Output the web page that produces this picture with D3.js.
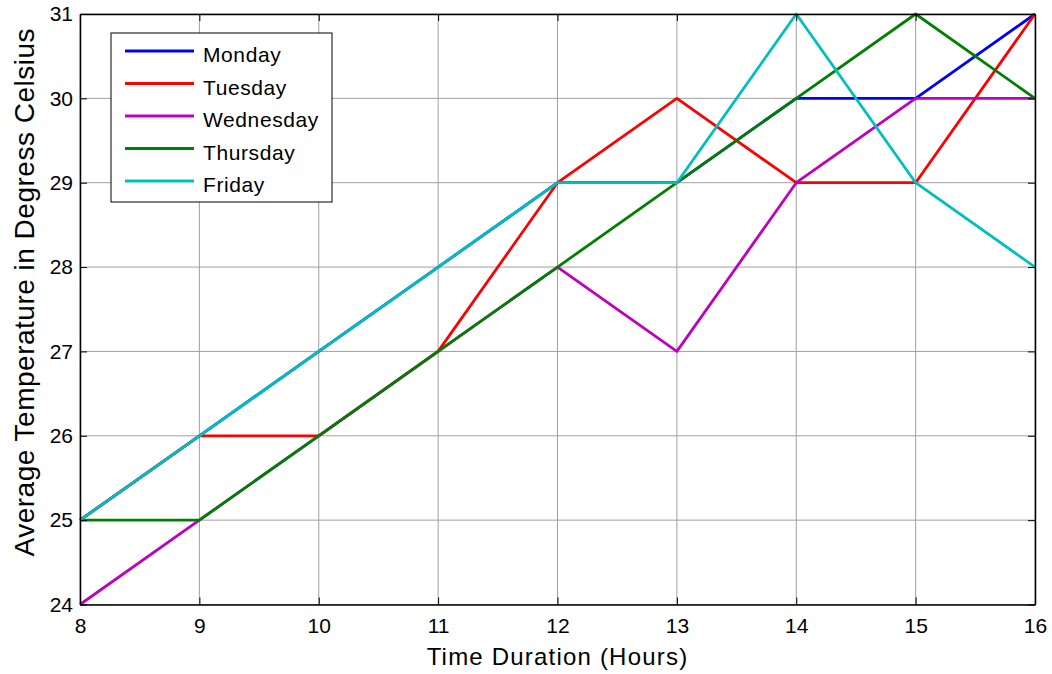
<!DOCTYPE html>
<html>
<head>
<meta charset="utf-8">
<script src="https://cdn.jsdelivr.net/npm/d3@7"></script>
<style>
  body { margin: 0; background: #fff; }
  svg text { font-family: "Liberation Sans", Arial, sans-serif; fill: #000; }
</style>
</head>
<body>
<div id="figure_area"></div>
<script>
// ----- DATA
var hours = [8, 9, 10, 11, 12, 13, 14, 15, 16];
var monday    = [25, 26, 27, 28, 29, 29, 30, 30, 31];
var tuesday   = [25, 26, 26, 27, 29, 30, 29, 29, 31];
var wednesday = [24, 25, 26, 27, 28, 27, 29, 30, 30];
var thursday  = [25, 25, 26, 27, 28, 29, 30, 31, 30];
var friday    = [25, 26, 27, 28, 29, 29, 31, 29, 28];
var seriesNames = ["Monday", "Tuesday", "Wednesday", "Thursday", "Friday"];
var seriesColors = ["#0000ff", "#ff0000", "#bf00bf", "#008000", "#00bfbf"];
var xTicks = [8, 9, 10, 11, 12, 13, 14, 15, 16];
var yTicks = [24, 25, 26, 27, 28, 29, 30, 31];

var allSeries = [monday, tuesday, wednesday, thursday, friday];

// ----- FIGURE
const fig = { width: 1052, height: 674, left: 80, right: 1035, top: 14, bottom: 604.5 };

var svg = d3.select("#figure_area")
    .append("svg")
    .attr("width", fig.width)
    .attr("height", fig.height);

var x_scale = d3.scaleLinear()
    .domain([8, 16])
    .range([fig.left, fig.right]);

var y_scale = d3.scaleLinear()
    .domain([24, 31])
    .range([fig.bottom, fig.top]);

// grid
svg.append("g")
    .selectAll("line")
    .data(xTicks)
    .join("line")
    .attr("x1", d => x_scale(d)).attr("x2", d => x_scale(d))
    .attr("y1", fig.top).attr("y2", fig.bottom)
    .attr("stroke", "#a0a0a0").attr("stroke-width", 1);
svg.append("g")
    .selectAll("line")
    .data(yTicks)
    .join("line")
    .attr("y1", d => y_scale(d)).attr("y2", d => y_scale(d))
    .attr("x1", fig.left).attr("x2", fig.right)
    .attr("stroke", "#a0a0a0").attr("stroke-width", 1);

// series lines
var line = d3.line()
    .x((d, i) => x_scale(hours[i]))
    .y(d => y_scale(d));

allSeries.forEach(function (s, k) {
    svg.append("path")
        .datum(s)
        .attr("fill", "none")
        .attr("stroke", seriesColors[k])
        .attr("stroke-width", 2.8)
        .attr("stroke-linejoin", "round")
        .attr("d", line);
});

// axes (inside ticks, box on)
var tickLen = 7;
var x_axis = d3.axisBottom(x_scale).tickValues(xTicks).tickFormat(d3.format("d"))
    .tickSizeInner(-tickLen).tickSizeOuter(0).tickPadding(14);
var gx = svg.append("g")
    .attr("transform", "translate(0," + fig.bottom + ")")
    .call(x_axis);
var y_axis = d3.axisLeft(y_scale).tickValues(yTicks).tickFormat(d3.format("d"))
    .tickSizeInner(-tickLen).tickSizeOuter(0).tickPadding(12);
var gy = svg.append("g")
    .attr("transform", "translate(" + fig.left + ",0)")
    .call(y_axis);
var x_top = d3.axisTop(x_scale).tickValues(xTicks).tickSizeInner(-tickLen).tickSizeOuter(0).tickFormat("");
svg.append("g")
    .attr("transform", "translate(0," + fig.top + ")")
    .call(x_top);
var y_right = d3.axisRight(y_scale).tickValues(yTicks).tickSizeInner(-tickLen).tickSizeOuter(0).tickFormat("");
svg.append("g")
    .attr("transform", "translate(" + fig.right + ",0)")
    .call(y_right);

svg.selectAll(".domain").attr("stroke", "#000").attr("stroke-width", 1.5);
svg.selectAll(".tick line").attr("stroke", "#000");
gx.selectAll("text").attr("font-size", 21).attr("font-family", "Liberation Sans, Arial, sans-serif").attr("dy", "0.71em");
gy.selectAll("text").attr("font-size", 21).attr("font-family", "Liberation Sans, Arial, sans-serif").attr("dx", 5);

// axis labels
svg.append("text")
    .attr("x", (fig.left + fig.right) / 2)
    .attr("y", 665)
    .attr("text-anchor", "middle")
    .attr("font-size", 24)
    .attr("letter-spacing", 1.2)
    .text("Time Duration (Hours)");
svg.append("text")
    .attr("transform", "translate(34," + ((fig.top + fig.bottom) / 2 - 17) + ") rotate(-90)")
    .attr("text-anchor", "middle")
    .attr("font-size", 28)
    .attr("letter-spacing", 0.5)
    .text("Average Temperature in Degress Celsius");

// legend
var legend = svg.append("g");
legend.append("rect")
    .attr("x", 111).attr("y", 33)
    .attr("width", 221).attr("height", 169)
    .attr("fill", "#fff")
    .attr("stroke", "#000").attr("stroke-width", 1);
seriesNames.forEach(function (name, k) {
    var yy = 51 + k * 32.5;
    legend.append("line")
        .attr("x1", 125).attr("x2", 194)
        .attr("y1", yy).attr("y2", yy)
        .attr("stroke", seriesColors[k]).attr("stroke-width", 2.8);
    legend.append("text")
        .attr("x", 203).attr("y", yy + 11)
        .attr("font-size", 21)
        .attr("letter-spacing", 0.6)
        .text(name);
});
</script>
</body>
</html>
